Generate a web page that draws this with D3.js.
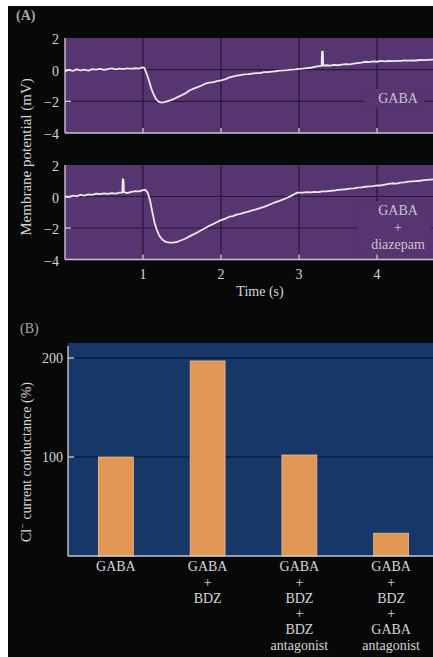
<!DOCTYPE html>
<html>
<head>
<meta charset="utf-8">
<script src="https://cdn.jsdelivr.net/npm/d3@7"></script>
<style>
  body { margin: 0; background: #fff; }
  svg { display: block; font-family: "Liberation Serif", "DejaVu Serif", serif; }
</style>
</head>
<body>
<script>
// Panel A: membrane potential traces, [time (s), mV]
const traceGaba = [
  [0.00,-0.10],[0.05,-0.02],[0.10,-0.08],[0.15,0.02],[0.20,-0.05],[0.25,0.00],[0.30,-0.06],
  [0.35,0.03],[0.40,0.00],[0.45,0.05],[0.50,-0.02],[0.55,0.04],[0.60,0.08],[0.65,0.02],
  [0.70,0.07],[0.75,0.03],[0.80,0.08],[0.85,0.05],[0.90,0.09],[0.95,0.06],[1.00,0.14],
  [1.02,0.10],[1.05,-0.30],[1.08,-0.75],[1.11,-1.25],[1.14,-1.60],[1.17,-1.88],[1.20,-2.02],
  [1.24,-2.08],[1.28,-2.04],[1.32,-1.98],[1.36,-1.92],[1.40,-1.84],[1.45,-1.72],[1.50,-1.60],
  [1.55,-1.48],[1.60,-1.30],[1.65,-1.20],[1.70,-1.10],[1.75,-1.00],[1.80,-0.88],[1.85,-0.82],
  [1.90,-0.78],[1.95,-0.72],[2.00,-0.68],[2.05,-0.62],[2.10,-0.50],[2.15,-0.44],[2.20,-0.38],
  [2.25,-0.34],[2.30,-0.30],[2.35,-0.28],[2.40,-0.25],[2.45,-0.22],[2.50,-0.22],[2.55,-0.16],
  [2.60,-0.15],[2.65,-0.12],[2.70,-0.10],[2.75,-0.06],[2.80,-0.05],[2.85,-0.03],[2.90,0.00],
  [2.95,0.02],[3.00,0.05],[3.05,0.06],[3.10,0.10],[3.15,0.12],[3.20,0.18],[3.25,0.22],
  [3.29,0.24],[3.295,1.14],[3.305,1.14],[3.31,0.26],[3.35,0.28],[3.40,0.25],[3.45,0.30],
  [3.50,0.28],[3.55,0.32],[3.60,0.35],[3.65,0.33],[3.70,0.38],[3.75,0.42],[3.80,0.45],
  [3.85,0.50],[3.90,0.48],[3.95,0.52],[4.00,0.50],[4.05,0.55],[4.10,0.53],[4.15,0.56],
  [4.20,0.54],[4.25,0.56],[4.30,0.55],[4.35,0.58],[4.40,0.57],[4.45,0.59],[4.50,0.58],
  [4.55,0.61],[4.60,0.60],[4.65,0.62],[4.72,0.63],[4.80,0.64]
];
const traceDiazepam = [
  [0.00,0.00],[0.05,-0.04],[0.10,0.05],[0.15,0.02],[0.20,0.10],[0.25,0.06],[0.30,0.14],
  [0.35,0.10],[0.40,0.18],[0.45,0.15],[0.50,0.20],[0.55,0.16],[0.60,0.22],[0.65,0.18],
  [0.70,0.25],[0.735,0.24],[0.74,1.10],[0.75,1.05],[0.755,0.28],[0.80,0.22],[0.85,0.30],
  [0.90,0.34],[0.95,0.32],[1.00,0.40],[1.03,0.42],[1.06,0.25],[1.09,-0.25],[1.12,-1.00],
  [1.15,-1.70],[1.18,-2.15],[1.21,-2.50],[1.25,-2.75],[1.29,-2.88],[1.34,-2.93],[1.39,-2.92],
  [1.44,-2.88],[1.49,-2.78],[1.54,-2.68],[1.59,-2.55],[1.64,-2.42],[1.69,-2.30],[1.74,-2.16],
  [1.80,-2.00],[1.85,-1.86],[1.90,-1.75],[1.95,-1.62],[2.00,-1.50],[2.05,-1.42],[2.10,-1.30],
  [2.15,-1.24],[2.20,-1.15],[2.25,-1.10],[2.30,-1.02],[2.35,-0.96],[2.40,-0.88],[2.45,-0.82],
  [2.50,-0.74],[2.55,-0.66],[2.60,-0.56],[2.65,-0.46],[2.70,-0.36],[2.75,-0.28],[2.80,-0.18],
  [2.85,-0.08],[2.90,0.04],[2.95,0.18],[2.98,0.25],[3.05,0.24],[3.10,0.28],[3.15,0.26],
  [3.20,0.30],[3.25,0.28],[3.30,0.32],[3.35,0.33],[3.40,0.36],[3.45,0.38],[3.50,0.42],
  [3.55,0.44],[3.60,0.46],[3.65,0.50],[3.70,0.52],[3.75,0.56],[3.80,0.58],[3.85,0.62],
  [3.90,0.64],[3.95,0.66],[4.00,0.70],[4.05,0.70],[4.10,0.76],[4.15,0.80],[4.20,0.84],
  [4.25,0.82],[4.30,0.88],[4.35,0.90],[4.40,0.94],[4.45,0.96],[4.50,0.98],[4.55,1.00],
  [4.60,1.04],[4.65,1.06],[4.72,1.09],[4.80,1.12]
];
const potentialTicks = [2, 0, -2, -4];
const timeTicks = [1, 2, 3, 4];

// Panel B: Cl- conductance
const conditions = ["GABA", "GABA + BDZ", "GABA + BDZ + BDZ antagonist", "GABA + BDZ + GABA antagonist"];
const conditionLines = [
  ["GABA"],
  ["GABA", "+", "BDZ"],
  ["GABA", "+", "BDZ", "+", "BDZ", "antagonist"],
  ["GABA", "+", "BDZ", "+", "GABA", "antagonist"]
];
const conductance = [100, 197, 102, 23];
const conductanceTicks = [100, 200];

const W = 433, H = 657;
const purple = "#573570", purpleGrid = "#2a1838";
const blue = "#163767", blueGrid = "#0a1f45";
const axisCol = "#c9c6cc", textCol = "#d6d4d8";

const svg = d3.select("body").append("svg").attr("width", W).attr("height", H);
svg.append("rect").attr("width", W).attr("height", H).attr("fill", "#fff");
svg.append("rect").attr("x", 8).attr("y", 6).attr("width", W - 8).attr("height", H - 6).attr("fill", "#080808");

// ---------- Panel A ----------
svg.append("text").attr("x", 16).attr("y", 20).attr("fill", "#a8a6aa")
  .attr("font-size", 14).attr("font-weight", "bold").text("(A)");

const x = d3.scaleLinear().domain([0, 5]).range([65, 65 + 78 * 5]);

const traces = [
  { data: traceGaba, top: 38, bottom: 133, label: ["GABA"], labelY: -1.85 },
  { data: traceDiazepam, top: 165, bottom: 259.5, label: ["GABA", "+", "diazepam"], labelY: -0.95 }
];

traces.forEach((p, i) => {
  const y = d3.scaleLinear().domain([-4, 2]).range([p.bottom, p.top]);
  const g = svg.append("g");

  g.append("rect").attr("x", x(0)).attr("y", y(2)).attr("width", W - x(0)).attr("height", y(-4) - y(2))
    .attr("fill", purple);

  // dark grid
  g.selectAll(".hg").data([0, -2]).join("line")
    .attr("x1", x(0)).attr("x2", W).attr("y1", d => y(d)).attr("y2", d => y(d))
    .attr("stroke", purpleGrid).attr("stroke-width", 1.2);
  g.selectAll(".vg").data(timeTicks).join("line")
    .attr("x1", d => x(d)).attr("x2", d => x(d)).attr("y1", y(2)).attr("y2", y(-4))
    .attr("stroke", purpleGrid).attr("stroke-width", 1.2);

  // label with purple backing (breaks the grid line)
  const lab = g.append("g");
  lab.selectAll("text").data(p.label).join("text")
    .attr("x", x(4.27)).attr("y", (d, k) => y(p.labelY) + 4 + k * 17)
    .attr("text-anchor", "middle").attr("font-size", 14).attr("fill", "#cbc3d0")
    .text(d => d);
  const bb = lab.node().getBBox();
  lab.insert("rect", "text").attr("x", bb.x - 14).attr("y", bb.y - 2)
    .attr("width", bb.width + 20).attr("height", bb.height + 4).attr("fill", purple);

  // axes
  g.append("line").attr("x1", x(0)).attr("x2", W).attr("y1", y(-4)).attr("y2", y(-4))
    .attr("stroke", axisCol).attr("stroke-width", 1.6);
  g.append("line").attr("x1", x(0)).attr("x2", x(0)).attr("y1", y(2)).attr("y2", y(-4))
    .attr("stroke", axisCol).attr("stroke-width", 1.4);
  g.selectAll(".xt").data(timeTicks).join("line")
    .attr("x1", d => x(d)).attr("x2", d => x(d)).attr("y1", y(-4)).attr("y2", y(-4) - 5)
    .attr("stroke", axisCol).attr("stroke-width", 1.4);
  g.selectAll(".yt").data([0, -2]).join("line")
    .attr("x1", x(0)).attr("x2", x(0) + 6).attr("y1", d => y(d)).attr("y2", d => y(d))
    .attr("stroke", axisCol).attr("stroke-width", 1.4);

  g.selectAll(".yl").data(potentialTicks).join("text")
    .attr("x", 59).attr("y", d => y(d) + 6).attr("text-anchor", "end")
    .attr("font-size", 14).attr("fill", textCol)
    .text(d => d < 0 ? "\u2212" + Math.abs(d) : d);

  // trace
  const line = d3.line().x(d => x(d[0])).y(d => y(d[1]));
  g.append("path").datum(p.data).attr("d", line).attr("fill", "none")
    .attr("stroke", "#ece8ee").attr("stroke-width", 1.8).attr("stroke-linejoin", "round");

  if (i === 1) {
    g.selectAll(".xl").data(timeTicks).join("text")
      .attr("x", d => x(d)).attr("y", y(-4) + 19).attr("text-anchor", "middle")
      .attr("font-size", 14).attr("fill", textCol).text(d => d);
    g.append("text").attr("x", 260).attr("y", y(-4) + 36).attr("text-anchor", "middle")
      .attr("font-size", 14).attr("fill", textCol).text("Time (s)");
  }
});

svg.append("text").attr("transform", "translate(31,157) rotate(-90)")
  .attr("text-anchor", "middle").attr("font-size", 15).attr("fill", textCol)
  .text("Membrane potential (mV)");

// ---------- Panel B ----------
svg.append("text").attr("x", 20).attr("y", 333).attr("fill", "#a8a6aa")
  .attr("font-size", 14).text("(B)");

const xb = d3.scaleBand().domain(conditions).range([70, 437]).paddingInner(0.62).paddingOuter(0.31);
const yb = d3.scaleLinear().domain([0, 200]).range([556, 358]);
const topB = 343;

svg.append("rect").attr("x", 68).attr("y", topB).attr("width", W - 68).attr("height", yb(0) - topB)
  .attr("fill", blue);
svg.selectAll(".bg").data(conductanceTicks).join("line")
  .attr("x1", 68).attr("x2", W).attr("y1", d => yb(d)).attr("y2", d => yb(d))
  .attr("stroke", blueGrid).attr("stroke-width", 1.3);

svg.selectAll(".bar").data(conductance).join("rect")
  .attr("x", (d, i) => xb(conditions[i])).attr("width", xb.bandwidth())
  .attr("y", d => yb(d)).attr("height", d => yb(0) - yb(d))
  .attr("fill", "#e19656").attr("stroke", "#f0c08e").attr("stroke-width", 0.8);

svg.append("line").attr("x1", 68).attr("x2", W).attr("y1", yb(0)).attr("y2", yb(0))
  .attr("stroke", axisCol).attr("stroke-width", 1.6);
svg.append("line").attr("x1", 68).attr("x2", 68).attr("y1", topB + 3).attr("y2", yb(0))
  .attr("stroke", axisCol).attr("stroke-width", 1.4);
svg.selectAll(".byt").data(conductanceTicks).join("line")
  .attr("x1", 68).attr("x2", 74).attr("y1", d => yb(d)).attr("y2", d => yb(d))
  .attr("stroke", axisCol).attr("stroke-width", 1.4);
svg.selectAll(".byl").data(conductanceTicks).join("text")
  .attr("x", 63).attr("y", d => yb(d) + 5).attr("text-anchor", "end")
  .attr("font-size", 14).attr("fill", textCol).text(d => d);

const catG = svg.selectAll(".cat").data(conditions).join("text")
  .attr("text-anchor", "middle").attr("font-size", 14).attr("fill", textCol);
catG.selectAll("tspan").data((d, i) => conditionLines[i].map(s => ({ s, c: d }))).join("tspan")
  .attr("x", d => xb(d.c) + xb.bandwidth() / 2)
  .attr("y", (d, k) => 571 + k * 15.8)
  .text(d => d.s);

const ylab = svg.append("text").attr("transform", "translate(31,462) rotate(-90)")
  .attr("text-anchor", "middle").attr("font-size", 14).attr("fill", textCol);
ylab.append("tspan").text("Cl");
ylab.append("tspan").attr("dy", -5).attr("font-size", 10).text("\u2212");
ylab.append("tspan").attr("dy", 5).text(" current conductance (%)");
</script>
</body>
</html>
